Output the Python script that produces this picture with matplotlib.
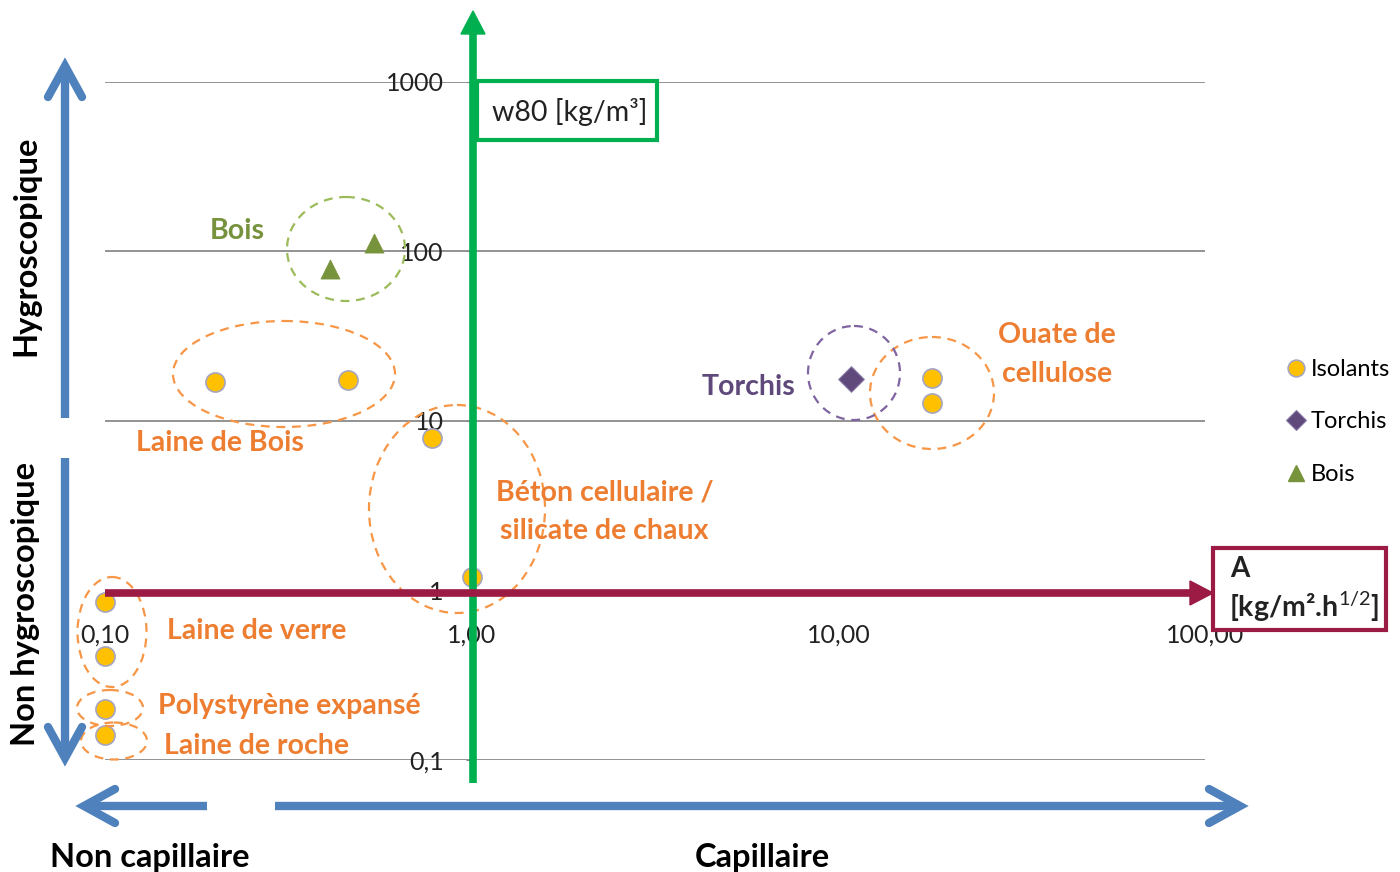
import matplotlib
matplotlib.use("Agg")
import matplotlib.pyplot as plt
from matplotlib.patches import Ellipse, Rectangle, Polygon
from matplotlib.lines import Line2D

plt.rcParams['font.family'] = ['Lato', 'DejaVu Sans']
plt.rcParams['mathtext.fontset'] = 'custom'
plt.rcParams['mathtext.rm'] = 'Lato'
plt.rcParams['mathtext.bf'] = 'Lato:bold'

# ---- data ----
isolants_x = [0.2, 0.46, 0.78, 1.0, 18.0, 18.0, 0.1, 0.1, 0.1, 0.1]
isolants_y = [17.0, 17.5, 7.9, 1.2, 18.0, 12.8, 0.85, 0.41, 0.20, 0.14]
torchis_x = [10.8]
torchis_y = [17.7]
bois_x = [0.41, 0.54]
bois_y = [79.0, 113.0]
x_ticks = [0.1, 1, 10, 100]
x_tick_labels = ['0,10', '1,00', '10,00', '100,00']
y_ticks = [0.1, 1, 10, 100, 1000]
y_tick_labels = ['0,1', '1', '10', '100', '1000']
series_names = ['Isolants', 'Torchis', 'Bois']

W, H = 1400, 872
fig = plt.figure(figsize=(W / 100, H / 100), dpi=100)
fig.patch.set_facecolor('white')

def fx(px):
    return px / W

def fy(py):
    return 1 - py / H

ax = fig.add_axes([fx(105), fy(760), (1205 - 105) / W, (760 - 82) / H])
ax.set_xscale('log')
ax.set_yscale('log')
ax.set_xlim(0.1, 100)
ax.set_ylim(0.1, 1000)
ax.set_facecolor('none')
for s in ['top', 'right']:
    ax.spines[s].set_visible(False)
ax.spines['left'].set_position(('data', 1))
ax.spines['bottom'].set_position(('data', 1))
ax.spines['left'].set_color('#888888')
ax.spines['bottom'].set_color('#888888')
ax.set_xticks(x_ticks)
ax.set_xticklabels(x_tick_labels)
ax.set_yticks(y_ticks)
ax.set_yticklabels(y_tick_labels)
ax.minorticks_off()
ax.tick_params(axis='x', length=0, pad=24, labelsize=18, labelcolor='#222222')
ax.tick_params(axis='y', length=4, color='#888888', pad=16, labelsize=18, labelcolor='#222222')
ax.yaxis.grid(True, color='#8a8a8a', linewidth=1.3)
ax.set_axisbelow(True)

ax.scatter(isolants_x, isolants_y, s=190, marker='o', facecolor='#FFC000',
           edgecolor='#A5A5C0', linewidth=1.2, zorder=4, clip_on=False, label=series_names[0])
ax.scatter(torchis_x, torchis_y, s=170, marker='D', facecolor='#604A7B',
           edgecolor='#8A7AA8', linewidth=0.8, zorder=4, clip_on=False, label=series_names[1])
ax.scatter(bois_x, bois_y, s=190, marker='^', facecolor='#77933C',
           edgecolor='#77933C', linewidth=0.5, zorder=4, clip_on=False, label=series_names[2])

leg = fig.legend(handles=[
    Line2D([], [], marker='o', ls='', ms=12, mfc='#FFC000', mec='#A5A5C0', mew=1.2),
    Line2D([], [], marker='D', ls='', ms=10, mfc='#604A7B', mec='#8A7AA8', mew=0.8),
    Line2D([], [], marker='^', ls='', ms=12, mfc='#77933C', mec='#77933C')],
    labels=series_names, loc='upper left', bbox_to_anchor=(fx(1285), fy(359)),
    frameon=False, fontsize=17, handletextpad=0.2, labelspacing=1.33,
    handlelength=0.9, borderaxespad=0, borderpad=0)

# ---- overlay in pixel coordinates ----
ov = fig.add_axes([0, 0, 1, 1], zorder=5)
ov.set_xlim(0, W)
ov.set_ylim(H, 0)
ov.axis('off')
ov.patch.set_alpha(0)

blue = '#4F81BD'
green = '#00B050'
maroon = '#9B1B45'
orange = '#ED7D31'
orange_l = '#F79646'

def chevron_arrow(x0, y0, x1, y1, dx, dy):
    ov.plot([x0, x1], [y0, y1], color=blue, lw=6, solid_capstyle='butt')
    ov.plot([x1 + dx[0], x1, x1 + dx[1]], [y1 + dy[0], y1, y1 + dy[1]], color=blue, lw=6,
            solid_capstyle='round', solid_joinstyle='miter')

chevron_arrow(65, 418, 65, 66, (-17, 17), (31, 31))
chevron_arrow(65, 458, 65, 758, (-17, 17), (-31, -31))
chevron_arrow(207, 806, 84, 806, (31, 31), (-17, 17))
chevron_arrow(275, 806, 1240, 806, (-31, -31), (-17, 17))

# green arrow (w80 axis)
ov.plot([473, 473], [783, 30], color=green, lw=5.5, solid_capstyle='butt')
ov.add_patch(Polygon([[473, 11], [461, 34], [485, 34]], closed=True, color=green))
# maroon arrow (A axis)
ov.plot([105, 1195], [593, 593], color=maroon, lw=5.5, solid_capstyle='butt')
ov.add_patch(Polygon([[1213, 593], [1190, 581], [1190, 605]], closed=True, color=maroon))

# boxes
ov.add_patch(Rectangle((477, 81), 180, 59, fill=True, facecolor='white', edgecolor=green, lw=3))
ov.text(570, 112, 'w80 [kg/m³]', ha='center', va='center', fontsize=20.5, color='#222222')
ov.add_patch(Rectangle((1213, 548), 173, 82, fill=True, facecolor='white', edgecolor=maroon, lw=3))
ov.text(1230, 569, 'A', ha='left', va='center', fontsize=20, color='#222222', fontweight='bold')
ov.text(1229, 607, r'[kg/m².h$^{1/2}$]', ha='left', va='center', fontsize=20.5,
        color='#222222', fontweight='bold')

# dashed ellipses
def dell(cx, cy, w, h, c):
    ov.add_patch(Ellipse((cx, cy), w, h, fill=False, edgecolor=c, lw=1.6, ls=(0, (4, 3))))

dell(284, 374, 222, 106, orange_l)
dell(457, 509, 176, 208, orange_l)
dell(932, 393, 124, 112, orange_l)
dell(112, 632, 69, 110, orange_l)
dell(110, 708, 66, 36, orange_l)
dell(114, 741, 66, 37, orange_l)
dell(346, 249, 118, 104, '#9BBB59')
dell(854, 373, 92, 94, '#8064A2')

# labels
lab = dict(ha='center', va='center', fontsize=20.5, fontweight='bold')
ov.text(237, 231, 'Bois', color='#76923C', **lab)
ov.text(220, 443, 'Laine de Bois', color=orange, **lab)
ov.text(605, 492, 'Béton cellulaire /', color=orange, **lab)
ov.text(604, 531, 'silicate de chaux', color=orange, **lab)
ov.text(748, 387, 'Torchis', color='#5F497A', **lab)
ov.text(1057, 335, 'Ouate de', color=orange, **lab)
ov.text(1057, 374, 'cellulose', color=orange, **lab)
ov.text(257, 631, 'Laine de verre', color=orange, **lab)
ov.text(289, 706, 'Polystyrène expansé', color=orange, **lab)
ov.text(257, 746, 'Laine de roche', color=orange, **lab)

big = dict(fontsize=23.5, fontweight='bold', color='black', ha='center', va='center')
ov.text(26, 246, 'Hygroscopique', rotation=90, **big)
ov.text(26, 604, 'Non hygroscopique', rotation=90, **big)
ov.text(150, 857, 'Non capillaire', **big)
ov.text(762, 857, 'Capillaire', **big)

fig.savefig('out.png', dpi=100, facecolor='white')
